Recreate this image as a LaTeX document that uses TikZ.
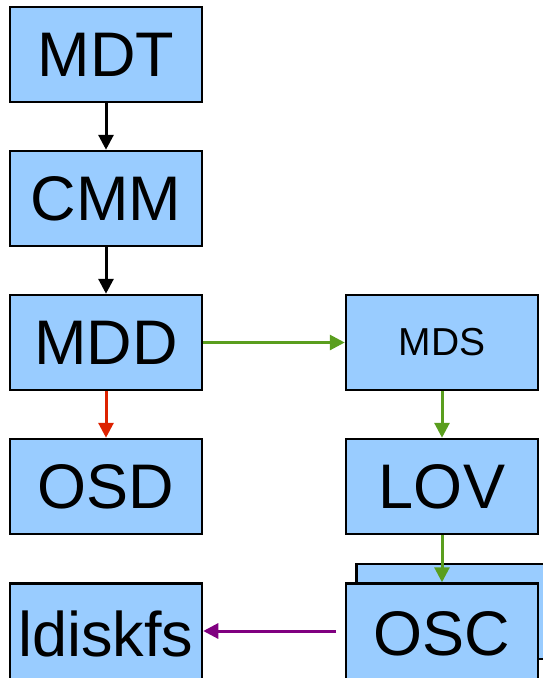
\documentclass[tikz,border=0pt]{standalone}
\usepackage{fontspec}
\setmainfont{Liberation Sans}
\usetikzlibrary{arrows.meta}
\definecolor{boxfill}{HTML}{99CCFF}
\definecolor{flowgreen}{HTML}{5A9E1E}
\definecolor{flowred}{HTML}{DD2200}
\definecolor{flowpurple}{HTML}{800080}
\tikzset{
  layer/.style={draw=black, fill=boxfill, line width=2.5pt,
    minimum width=192pt, minimum height=95pt, inner sep=0pt,
    font=\fontsize{63}{70}\selectfont},
  smalllayer/.style={layer, font=\fontsize{39}{44}\selectfont},
  bottomlayer/.style={layer, minimum height=100pt},
  link/.style={line width=3pt, -{Triangle[length=15pt,width=15pt]}}
}
\begin{document}
\begin{tikzpicture}[x=1pt, y=-1pt]
  \useasboundingbox (0,0) rectangle (543,678);
  % left column: metadata server stack
  \node[layer] (mdt) at (106,54.5) {MDT};
  \node[layer] (cmm) at (106,198.5) {CMM};
  \node[layer] (mdd) at (106,342.5) {MDD};
  \node[layer] (osd) at (106,486.5) {OSD};
  \node[bottomlayer] (ldiskfs) at (106,633.5) {ldiskfs};
  % right column: client-side stack
  \node[smalllayer] (mds) at (442,342.5) {MDS};
  \node[layer] (lov) at (442,486.5) {LOV};
  \node[layer] (oscback) at (452.5,611.5) {};
  \node[bottomlayer] (osc) at (442,633.5) {OSC};
  \coordinate (osctail) at (336,631);
  % connectors
  \draw[link, black] (mdt) -- (cmm);
  \draw[link, black] (cmm) -- (mdd);
  \draw[link, flowred] (mdd) -- (osd);
  \draw[link, flowgreen] (mdd) -- (mds);
  \draw[link, flowgreen] (mds) -- (lov);
  \draw[link, flowgreen] (lov) -- (osc);
  \draw[link, flowpurple] (osctail) -- (osctail -| ldiskfs.east);
\end{tikzpicture}
\end{document}
